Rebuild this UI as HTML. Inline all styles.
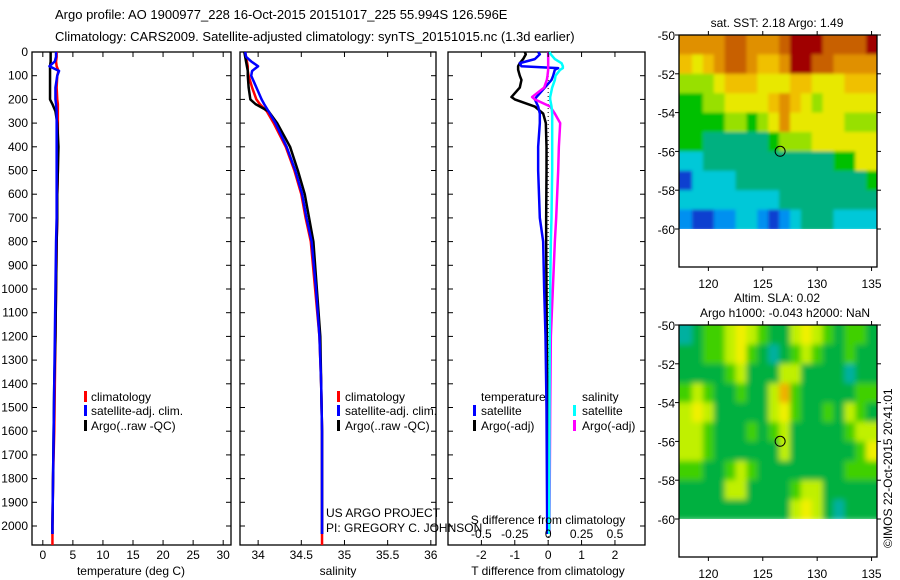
<!DOCTYPE html>
<html><head><meta charset="utf-8"><style>
body{margin:0;background:#fff}
svg{display:block;font-family:"Liberation Sans",sans-serif}
text{font-size:12px;fill:#000}
</style></head><body>
<svg id="c" width="900" height="580" viewBox="0 0 900 580">
<defs>
<filter id="blurS" x="0" y="0" width="1" height="1"><feGaussianBlur stdDeviation="1.5"/></filter>
<filter id="blurL" x="0" y="0" width="1" height="1"><feGaussianBlur stdDeviation="3"/></filter>
</defs>
<text x="55" y="19" style="font-size:13px">Argo profile: AO 1900977_228 16-Oct-2015 20151017_225 55.994S 126.596E</text>
<text x="55" y="41" style="font-size:13px">Climatology: CARS2009. Satellite-adjusted climatology: synTS_20151015.nc (1.3d earlier)</text>
<g id="g"></g>
</svg>
<script>
// ---- profile data ----
const depths=[0,20,40,60,80,100,150,200,220,250,300,400,500,600,700,800,1000,1200,1400,1600,1800,2000];
const tempClim=[2.3,2.3,2.2,2.3,2.6,2.4,2.3,2.4,2.5,2.5,2.5,2.5,2.5,2.4,2.4,2.3,2.2,2.1,2.0,1.9,1.7,1.6];
const tempSat=[2.2,2.2,2.0,1.1,2.7,2.4,2.1,2.1,2.2,2.3,2.3,2.3,2.3,2.3,2.3,2.2,2.1,2.0,1.9,1.8,1.7,1.6];
const tempArgo=[1.3,1.3,1.3,1.2,1.2,1.2,1.2,1.2,1.6,2.1,2.4,2.6,2.5,2.4,2.4,2.3,2.2,2.1,1.9,1.8,1.7,1.6];
const salClim=[33.85,33.86,33.87,33.88,33.88,33.89,33.93,33.98,34.02,34.1,34.18,34.32,34.42,34.5,34.55,34.61,34.66,34.71,34.73,34.74,34.74,34.74];
const salSat=[33.85,33.86,33.92,34.0,33.93,33.92,33.98,34.04,34.07,34.12,34.2,34.33,34.43,34.51,34.56,34.62,34.67,34.71,34.73,34.74,34.74,34.74];
const salArgo=[33.84,33.85,33.86,33.87,33.88,33.88,33.89,33.91,33.97,34.12,34.22,34.37,34.46,34.54,34.59,34.64,34.68,34.72,34.73,34.74,34.74,34.74];
const depthsDiff=[0,10,30,47,60,68,75,100,118,150,190,200,230,260,300,400,500,700,800,1000,1200,1500,2000];
const dTargo=[-0.7,-0.67,-0.75,-0.85,-0.9,-0.9,-0.9,-0.85,-0.8,-0.85,-1.1,-1.0,-0.4,-0.15,-0.07,-0.05,-0.05,-0.06,-0.06,-0.05,-0.04,-0.02,-0.02];
const dTsat=[-0.3,-0.25,-0.4,-0.85,-0.8,0.3,0.2,0.15,0.1,-0.1,-0.35,-0.4,-0.3,-0.25,-0.25,-0.3,-0.3,-0.25,-0.15,-0.12,-0.08,-0.05,-0.03];
const dSargo=[0,0,0,0,0,0,0,-0.005,-0.01,-0.03,-0.12,-0.1,0.015,0.05,0.09,0.08,0.075,0.06,0.05,0.035,0.02,0.015,0.01];
const dSsat=[0.01,0.02,0.05,0.1,0.11,0.11,0.09,0.055,0.05,0.03,0.015,0.015,0.025,0.03,0.03,0.03,0.03,0.025,0.02,0.015,0.012,0.01,0.008];
const depthTicks=[0,100,200,300,400,500,600,700,800,900,1000,1100,1200,1300,1400,1500,1600,1700,1800,1900,2000];
const tempTicks=[0,5,10,15,20,25,30];
const salTicks=[34,34.5,35,35.5,36];
const salTickLabels=["34","34.5","35","35.5","36"];
const dTTicks=[-2,-1,0,1,2];
const dSTicks=[-0.5,-0.25,0,0.25,0.5];
// ---- maps ----
const mapLonTicks=[120,125,130,135];
const mapLatTicks=[-50,-52,-54,-56,-58,-60];
const argoLon=126.596, argoLat=-55.994;
const sstGrid=[
[8,8,8,8,9,9,8,8,8,9,10,10,10,9,9,9,9,10],
[7,6,7,8,9,9,8,7,7,8,10,10,9,9,8,8,8,8],
[5,5,5,6,7,7,7,6,6,6,7,7,6,6,6,7,7,7],
[4,4,5,5,6,6,6,6,7,8,7,6,5,6,6,6,6,6],
[4,4,4,4,5,5,4,5,6,8,6,6,6,6,6,5,5,5],
[4,4,3,3,3,3,3,3,4,5,5,5,6,6,6,6,6,6],
[2,2,3,3,3,3,3,3,3,3,3,3,3,3,4,4,6,6],
[0,2,2,2,2,3,3,3,3,3,3,3,3,3,3,3,3,4],
[2,2,2,2,2,2,2,2,2,3,3,3,3,3,3,3,3,3],
[1,0,0,1,1,2,2,1,0,1,2,3,3,3,2,2,2,2]];
const slaGrid=[
[0,1,2,2,3,4,3,2,1,1,3,4,3,2,1,2,2,1],
[1,1,2,2,3,4,2,1,0,1,2,3,2,1,1,2,1,1],
[1,1,1,1,2,3,1,1,1,3,3,1,1,1,1,0,1,1],
[2,3,2,1,1,2,1,1,3,5,2,1,1,1,1,1,2,2],
[3,4,3,1,1,1,1,1,3,4,2,1,1,2,1,3,2,1],
[3,3,2,1,1,1,2,1,2,3,1,1,1,1,1,2,3,3],
[3,3,2,1,1,1,1,1,1,3,1,1,1,1,1,1,2,4],
[2,2,1,1,2,3,2,1,1,1,1,1,1,1,1,2,2,2],
[1,1,1,1,3,3,1,1,1,1,2,3,3,1,1,1,1,1],
[1,1,1,1,1,1,1,1,1,1,3,4,3,1,0,1,1,1]];
const sstColors=["#1040d0","#0090f0","#00c8d8","#00b080","#00c000","#98e000","#e8e800","#f0c000","#e09000","#c86000","#a00000"];
const slaColors=["#00b0a0","#00b040","#40d000","#c0f000","#f0f000","#f0b000"];

const NS="http://www.w3.org/2000/svg", G=document.getElementById('g');
function el(t,a,txt,par){const e=document.createElementNS(NS,t);for(const k in a)e.setAttribute(k,a[k]);if(txt!==undefined&&txt!==null)e.textContent=txt;(par||G).appendChild(e);return e;}
const Y0=52,DY=0.237;
const yD=d=>Y0+d*DY;
const panels=[
 {x0:32,x1:231,vmin:-1.8,vmax:31.3,name:'temperature-panel'},
 {x0:240,x1:436,vmin:33.79,vmax:36.06,name:'salinity-panel'},
 {x0:448,x1:645,vmin:-3.0,vmax:2.9,name:'difference-panel'}];
const PY0=Y0,PY1=545;
function xs(p){return v=>p.x0+(v-p.vmin)/(p.vmax-p.vmin)*(p.x1-p.x0);}
panels.forEach((p,i)=>{
 const r=el('rect',{x:p.x0,y:PY0,width:p.x1-p.x0,height:PY1-PY0,fill:'none',stroke:'#000','stroke-width':1.3});
 
 depthTicks.forEach(d=>{
  const t1=el('line',{x1:p.x0,x2:p.x0+5,y1:yD(d),y2:yD(d),stroke:'#000'});
  
  const t2=el('line',{x1:p.x1-5,x2:p.x1,y1:yD(d),y2:yD(d),stroke:'#000'});
  
  if(i==0){const l=el('text',{x:28,y:yD(d)+4,'text-anchor':'end'},String(d));
   }
 });
});
function line(p,vals,color,w,name,scale,dep){
 dep=dep||depths;scale=scale||1;
 const X=xs(p);const pts=[];
 for(let k=0;k<dep.length;k++){pts.push(X(vals[k]*scale)+','+yD(dep[k]));}
 pts.push(X(vals[vals.length-1]*scale)+','+(name.indexOf('clim')>=0?PY1:yD(2000)+8));
 const e=el('polyline',{points:pts.join(' '),fill:'none',stroke:color,'stroke-width':w,'stroke-linejoin':'round'});
 
}
function xticks(p,ticks,labels,ty){
 const X=xs(p);
 ticks.forEach((t,k)=>{const x=X(t);
  const a=el('line',{x1:x,x2:x,y1:PY1-5,y2:PY1,stroke:'#000'});
  const b=el('line',{x1:x,x2:x,y1:PY0,y2:PY0+5,stroke:'#000'});
  const l=el('text',{x:x,y:ty,'text-anchor':'middle'},labels[k]);});
}
// panel 1
line(panels[0],tempClim,'#f00',2.5,'temp-climatology-line');
line(panels[0],tempArgo,'#000',2.5,'temp-argo-line');
line(panels[0],tempSat,'#00f',2.5,'temp-satellite-line');
xticks(panels[0],tempTicks,tempTicks.map(String),559);
// panel 2
line(panels[1],salClim,'#f00',2.5,'sal-climatology-line');
line(panels[1],salArgo,'#000',2.5,'sal-argo-line');
line(panels[1],salSat,'#00f',2.5,'sal-satellite-line');
xticks(panels[1],salTicks,salTickLabels,559);
// panel 3
const pd=panels[2],XD=xs(pd);
for(let y=PY0;y<PY1;y+=4){const d=el('line',{x1:XD(0),x2:XD(0),y1:y,y2:y+1,stroke:'#000'});}
line(pd,dTargo,'#000',2.5,'tdiff-argo-line',1,depthsDiff);
line(pd,dTsat,'#00f',2.5,'tdiff-satellite-line',1,depthsDiff);
line(pd,dSargo,'#f0f',2.5,'sdiff-argo-line',4,depthsDiff);
line(pd,dSsat,'#0ff',2.5,'sdiff-satellite-line',4,depthsDiff);
xticks(pd,dTTicks,dTTicks.map(String),559);
dSTicks.forEach(t=>{const l=el('text',{x:XD(t*4),y:538,'text-anchor':'middle'},String(t));});
function txt(x,y,s,name,anchor){const e=el('text',{x:x,y:y,'text-anchor':anchor||'start'},s);return e;}
txt(548,524,'S difference from climatology','s-diff-axis-title','middle');
txt(548,575,'T difference from climatology','t-diff-axis-title','middle');
txt(131,575,'temperature (deg C)','temperature-axis-title','middle');
txt(338,575,'salinity','salinity-axis-title','middle');
txt(326,517,'US ARGO PROJECT','project-credit');
txt(326,532,'PI: GREGORY C. JOHNSON','pi-credit');
// legends
function mark(x,y,c,name){const e=el('rect',{x:x,y:y-10,width:3,height:11,fill:c});}
[[84,91],[337,345]].forEach(([mx,tx],k)=>{
 mark(mx,401,'#f00','legend-climatology-swatch');txt(tx,401,'climatology','legend-climatology');
 mark(mx,415,'#00f','legend-satellite-swatch');txt(tx,415,'satellite-adj. clim.','legend-satellite');
 mark(mx,430,'#000','legend-argo-swatch');txt(tx,430,'Argo(..raw -QC)','legend-argo');
});
txt(481,401,'temperature','legend-temperature-heading');
mark(473,415,'#00f','legend-t-satellite-swatch');txt(481,415,'satellite','legend-t-satellite');
mark(473,430,'#000','legend-t-argo-swatch');txt(481,430,'Argo(-adj)','legend-t-argo');
txt(582,401,'salinity','legend-salinity-heading');
mark(573,415,'#0ff','legend-s-satellite-swatch');txt(582,415,'satellite','legend-s-satellite');
mark(573,430,'#f0f','legend-s-argo-swatch');txt(582,430,'Argo(-adj)','legend-s-argo');
// maps
const MX0=679,MX1=877,LON0=117.3,LON1=135.5;
const mx=lon=>MX0+(lon-LON0)/(LON1-LON0)*(MX1-MX0);
function map(top,grid,colors,name,filt){
 const my=lat=>top+(-50-lat)*19.4;
 const svgRoot=document.getElementById('c');
 const cp=el('clipPath',{id:name+'-clip'},null,svgRoot.querySelector('defs'));
 el('rect',{x:MX0,y:top,width:MX1-MX0,height:my(-60)-top},null,cp);
 const outer=el('g',{'clip-path':'url(#'+name+'-clip)'});
 
 const inner=el('g',{filter:'url(#'+filt+')'},null,outer);
 grid.forEach((row,r)=>row.forEach((v,c)=>{
  const x0=c==0?MX0-12:mx(117.5+c),x1=c==row.length-1?MX1+12:mx(118.5+c);
  const y0=r==0?top-12:my(-50-r),y1=r==grid.length-1?my(-60)+1:my(-51-r);
  const e=el('rect',{x:x0,y:y0,width:x1-x0+0.5,height:y1-y0+0.5,fill:colors[v]},null,inner);
  }));
 const f=el('rect',{x:MX0,y:top,width:MX1-MX0,height:232,fill:'none',stroke:'#000','stroke-width':1.3});
 
 mapLatTicks.forEach(l=>{const t=el('line',{x1:MX0-4,x2:MX0,y1:my(l),y2:my(l),stroke:'#000'});
  const t2=el('line',{x1:MX1,x2:MX1+4,y1:my(l),y2:my(l),stroke:'#000'});
  txt(MX0-4,my(l)+5,String(l),'lat-tick-label','end');});
 mapLonTicks.forEach(l=>{const t=el('line',{x1:mx(l),x2:mx(l),y1:top+232,y2:top+236,stroke:'#000'});
  const t2=el('line',{x1:mx(l),x2:mx(l),y1:top-4,y2:top,stroke:'#000'});
  txt(mx(l),top+253,String(l),'lon-tick-label','middle');});
 const c=el('circle',{cx:mx(argoLon),cy:my(argoLat),r:5,fill:'none',stroke:'#000'});
 
}
map(35,sstGrid,sstColors,'sst-map','blurS');
map(325,slaGrid,slaColors,'sla-map','blurL');
txt(777,27,'sat. SST: 2.18 Argo: 1.49','sst-map-title','middle');
txt(777,302,'Altim. SLA: 0.02','sla-map-title','middle');
txt(785,317,'Argo h1000: -0.043 h2000: NaN','sla-map-subtitle','middle');
const r=txt(0,0,'©IMOS 22-Oct-2015 20:41:01','imos-timestamp','start');
r.setAttribute('transform','translate(892,548) rotate(-90)');
</script>
</body></html>
